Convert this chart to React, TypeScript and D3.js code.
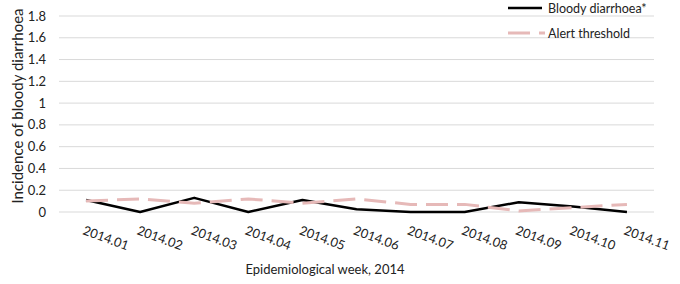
import * as d3 from "d3";
import React from "react";

const weeks = ["2014.01", "2014.02", "2014.03", "2014.04", "2014.05", "2014.06", "2014.07", "2014.08", "2014.09", "2014.10", "2014.11"];
const bloody = [0.11, 0, 0.13, 0, 0.11, 0.025, 0, 0, 0.09, 0.05, 0];
const alert = [0.1, 0.12, 0.08, 0.12, 0.08, 0.12, 0.07, 0.07, 0.01, 0.04, 0.07];
const yTicks = [0, 0.2, 0.4, 0.6, 0.8, 1, 1.2, 1.4, 1.6, 1.8];

const W = 680;
const H = 284;
const font = "Lato, 'Open Sans', sans-serif";

const App: React.FC = () => {
    const x = d3.scalePoint<string>().domain(weeks).range([59, 654]).padding(0.5);
    const y = d3.scaleLinear().domain([0, 1.8]).range([212, 16]);
    const line = d3.line<number>()
        .x((_, i) => x(weeks[i])!)
        .y(d => y(d));

    return (
        <svg width={W} height={H} style={{ position: "absolute", left: 0, top: 0, background: "white" }} fontFamily={font}>
            {yTicks.map(t => (
                <g key={t}>
                    <line x1={59} x2={654} y1={y(t)} y2={y(t)} stroke="#d9d9d9" strokeWidth={1} />
                    <text x={46} y={y(t)} dy="0.35em" textAnchor="end" fontSize={13} fill="#222">{t}</text>
                </g>
            ))}
            <path d={line(bloody)!} fill="none" stroke="#000" strokeWidth={2.5} strokeLinejoin="round" />
            <path d={line(alert)!} fill="none" stroke="#e6b9b8" strokeWidth={3} strokeDasharray="22,9" />
            {weeks.map(w => (
                <text key={w} transform={`translate(${x(w)! - 4},234) rotate(20)`} fontSize={12.8} fill="#222">{w}</text>
            ))}
            <text transform="translate(23,106) rotate(-90)" textAnchor="middle" fontSize={15} fill="#222">Incidence of bloody diarrhoea</text>
            <text x={325} y={274} textAnchor="middle" fontSize={13} fill="#222">Epidemiological week, 2014</text>
            <g>
                <line x1={508} x2={542} y1={8} y2={8} stroke="#000" strokeWidth={2.5} />
                <text x={548} y={12.5} fontSize={12.5} fill="#222">Bloody diarrhoea*</text>
                <line x1={508} x2={545} y1={33} y2={33} stroke="#e6b9b8" strokeWidth={3} strokeDasharray="22,9" />
                <text x={548} y={37.5} fontSize={12.5} fill="#222">Alert threshold</text>
            </g>
        </svg>
    );
};

export default App;
